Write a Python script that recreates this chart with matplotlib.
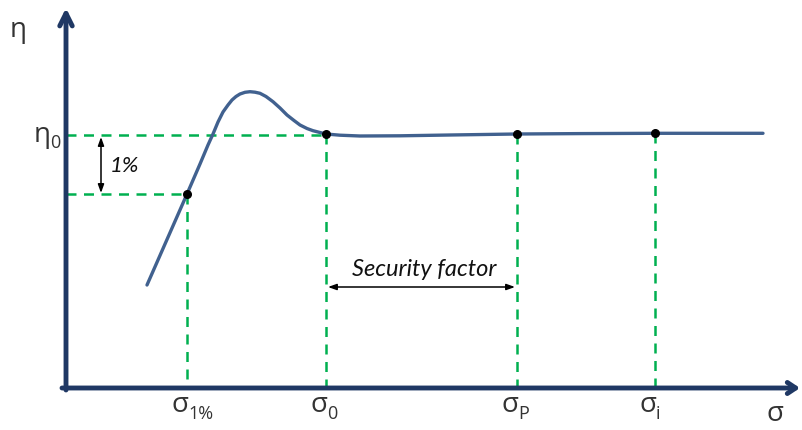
import matplotlib.pyplot as plt

curve_x = [147, 187, 200, 208, 213, 218, 223, 228, 232, 236, 240, 245, 250, 255, 260,
           266, 273, 280, 287, 294, 300, 307, 313, 320, 326, 340, 360, 400, 450,
           517, 580, 655, 710, 763]
curve_y = [285, 194, 164, 145, 134, 122, 112, 105, 100, 96.5, 94, 92.3, 91.7, 92.2, 93.3,
           96.5, 101.7, 108, 115, 120.5, 125, 128.5, 130.7, 132.5, 134, 135.2, 136, 135.8, 135,
           134, 133.6, 133.3, 133.3, 133.3]

# marked points
mark_x = [187, 326, 517, 655]
mark_y = [194, 134, 134, 133.3]
mark_labels = ["σ", "σ", "σ", "σ"]
mark_subs = ["1%", "0", "P", "i"]

eta0_y = 135
axis_x0, axis_y0 = 66, 388

NAVY = "#1f3864"
CURVE = "#41618f"
GREEN = "#00b050"
FONT = ["Open Sans", "DejaVu Sans"]
ITFONT = ["Lato", "Open Sans", "DejaVu Sans"]

fig = plt.figure(figsize=(8.02, 4.30), dpi=100)
ax = fig.add_axes([0, 0, 1, 1])
ax.set_xlim(0, 802)
ax.set_ylim(430, 0)
ax.axis("off")

# dashed guides
dash = dict(color=GREEN, lw=1.8, ls=(0, (4, 3)), zorder=1)
ax.plot([axis_x0, mark_x[1]], [eta0_y, eta0_y], **dash)
ax.plot([axis_x0, mark_x[0]], [mark_y[0], mark_y[0]], **dash)
for mx, my in zip(mark_x, mark_y):
    ax.plot([mx, mx], [my, axis_y0], **dash)

# axes with open arrow heads
ax.annotate("", xy=(axis_x0, 8), xytext=(axis_x0, axis_y0 + 2),
            arrowprops=dict(arrowstyle="->,head_length=0.9,head_width=0.45",
                            color=NAVY, lw=3.5, shrinkA=0, shrinkB=0))
ax.annotate("", xy=(800, axis_y0), xytext=(axis_x0 - 4, axis_y0),
            arrowprops=dict(arrowstyle="->,head_length=0.6,head_width=0.4",
                            color=NAVY, lw=3.5, shrinkA=0, shrinkB=0))

# curve and points
ax.plot(curve_x, curve_y, color=CURVE, lw=2.4, solid_capstyle="round",
        solid_joinstyle="round", zorder=2)
ax.scatter(mark_x, mark_y, s=30, color="black", zorder=3)

# 1% arrow
ax.annotate("", xy=(101, 137), xytext=(101, 193),
            arrowprops=dict(arrowstyle="<|-|>,head_length=0.5,head_width=0.18",
                            color="black", lw=1.1, shrinkA=0, shrinkB=0))
ax.text(110, 166, "1%", fontsize=16, style="italic", family=ITFONT,
        ha="left", va="center", color="#111111")

# security factor arrow
ax.annotate("", xy=(328, 287), xytext=(515, 287),
            arrowprops=dict(arrowstyle="<|-|>,head_length=0.5,head_width=0.18",
                            color="black", lw=1.1, shrinkA=0, shrinkB=0))
ax.text(424, 269, "Security factor", fontsize=17, style="italic", family=ITFONT,
        ha="center", va="center", color="#111111")

# labels
txt = "#333333"
ax.text(18, 30, "η", fontsize=20, family=FONT, ha="center", va="center", color=txt)
ax.text(42, 135, "η", fontsize=20, family=FONT, ha="center", va="center", color=txt)
ax.text(50, 143, "0", fontsize=13, family=FONT, ha="left", va="center", color=txt)
for mx, lab, sub in zip(mark_x, mark_labels, mark_subs):
    ax.text(mx + 1, 405, lab, fontsize=20, family=FONT, ha="right", va="center", color=txt)
    ax.text(mx + 1, 414, sub, fontsize=13, family=FONT, ha="left", va="center", color=txt)
ax.text(775, 421, "σ", fontsize=20, family=FONT, ha="center", va="baseline", color=txt)

fig.savefig("out.png", dpi=100)
